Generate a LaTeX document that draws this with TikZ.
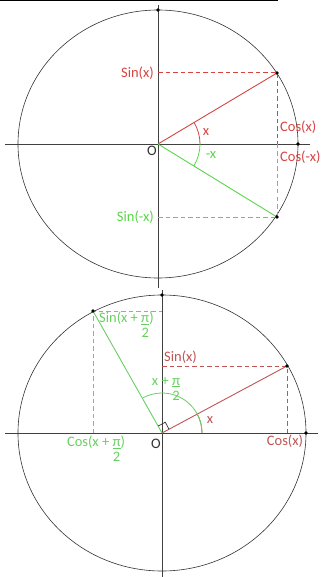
\documentclass[tikz,border=0pt]{standalone}
\usepackage{fontspec}
\setsansfont{Carlito}
\usetikzlibrary{positioning}

\definecolor{topred}{RGB}{214,68,64}
\definecolor{topgreen}{RGB}{88,214,72}
\definecolor{botred}{RGB}{190,84,84}
\definecolor{botgreen}{RGB}{104,208,98}

\tikzset{
  axis/.style={black!75, line width=0.8pt},
  circ/.style={black!80, line width=0.6pt},
  guide/.style={draw=#1, dash pattern=on 4.5pt off 3pt, line width=1pt},
  lbl/.style={font=\sffamily\fontsize{14.5}{16}\selectfont, inner sep=1pt},
  dot/.style={circle, fill=black, inner sep=0pt, minimum size=3.6pt},
}

% pi over 2, bar under pi
\newcommand{\halfpi}{\begin{tabular}[t]{@{}c@{}}\underline{π}\\[-1pt]2\end{tabular}}

\begin{document}
\begin{tikzpicture}[x=1pt,y=1pt]
    \useasboundingbox (0,0) rectangle (323,-577);
    \draw[line width=1.3pt] (0,-0.7) -- (278,-0.7);

    % upper circle: x and -x
    \begin{scope}[shift={(158,-144)}]
        \coordinate (O1) at (0,0);
        \coordinate (N1) at (0,139);
        \coordinate (S1) at (0,-144);
        \coordinate (W1) at (-153,0);
        \coordinate (E1) at (152,0);
        \coordinate (P1) at (119,71);
        \coordinate (Q1) at (119,-73);
        \coordinate (P1y) at (0,71);
        \coordinate (Q1y) at (0,-73);
        \coordinate (P1x) at (119,0);
        \draw[circ] (O1) ellipse [x radius=140, y radius=134];
        \draw[axis] (S1) -- (N1);
        \draw[axis] (W1) -- (E1);
        \draw[guide=topred] (P1y) -- (P1) -- (P1x);
        \draw[guide=topgreen] (P1x) -- (Q1) -- (Q1y);
        \draw[topred,line width=0.9pt] (O1) -- (P1);
        \draw[topgreen,line width=0.9pt] (O1) -- (Q1);
        \draw[topred,line width=0.8pt] (42,0) arc [start angle=0, end angle=31, x radius=42, y radius=42];
        \draw[topgreen,line width=0.8pt] (42,0) arc [start angle=0, end angle=-31, x radius=42, y radius=42];
        \foreach \p in {P1,Q1}
            \node[dot] at (\p) {};
        \node[dot] (E1dot) at (140,0) {};
        \node[dot] (N1dot) at (0,134) {};
        \node[lbl,topred,anchor=east] (sinx) at (-3,71) {Sin(x)};
        \node[lbl,topgreen,anchor=east] (sinmx) at (-3,-73) {Sin(-x)};
        \node[lbl,topred,anchor=west] (cosx) at (121,17) {Cos(x)};
        \node[lbl,topred,anchor=west] (cosmx) at (121,-13) {Cos(-x)};
        \node[lbl,topred] (ax) at (48,12) {x};
        \node[lbl,topgreen] (amx) at (53,-11) {-x};
        \node[lbl,black!80] (o1) at (-6,-7) {O};
    \end{scope}

    % lower circle: x and x + pi/2
    \begin{scope}[shift={(162,-433)}]
        \coordinate (O2) at (0,0);
        \coordinate (N2) at (0,143);
        \coordinate (S2) at (0,-144);
        \coordinate (W2) at (-157,0);
        \coordinate (E2) at (156,0);
        \coordinate (P2) at (125,67);
        \coordinate (G2) at (-69,122);
        \coordinate (P2y) at (0,67);
        \coordinate (P2x) at (125,0);
        \coordinate (G2y) at (0,122);
        \coordinate (G2x) at (-69,0);
        \draw[circ] (O2) ellipse [x radius=144, y radius=138];
        \draw[axis] (S2) -- (N2);
        \draw[axis] (W2) -- (E2);
        \draw[guide=botred] (P2y) -- (P2) -- (P2x);
        \draw[guide=botgreen] (G2x) -- (G2) -- (G2y);
        \draw[botred,line width=0.9pt] (O2) -- (P2);
        \draw[botgreen,line width=0.9pt] (O2) -- (G2);
        \draw[botred,line width=0.8pt] (40,0) arc [start angle=0, end angle=28, x radius=40, y radius=40];
        \draw[botgreen,line width=0.8pt] (40,0) arc [start angle=0, end angle=118, x radius=40, y radius=40];
        \draw[black!80,line width=0.7pt] (7.0,3.8) -- (3.3,10.8) -- (-3.7,7.0);
        \foreach \p in {P2,G2}
            \node[dot] at (\p) {};
        \node[dot] (E2dot) at (144,0) {};
        \node[dot] (N2dot) at (0,138) {};
        \node[lbl,botred,anchor=south west] (sinx2) at (1,68) {Sin(x)};
        \node[lbl,botred,anchor=north] (cosx2) at (123,-1) {Cos(x)};
        \node[lbl,botgreen,anchor=north west,align=left] (singx) at (-64,123) {Sin(x + \halfpi)};
        \node[lbl,botgreen,anchor=north] (cosgx) at (-66,-1) {Cos(x + \halfpi)};
        \node[lbl,botgreen,anchor=south] (agx) at (4,27) {x + \halfpi};
        \node[lbl,botred] (ax2) at (48,13) {x};
        \node[lbl,black!80] (o2) at (-6,-11) {O};
    \end{scope}
\end{tikzpicture}
\end{document}
